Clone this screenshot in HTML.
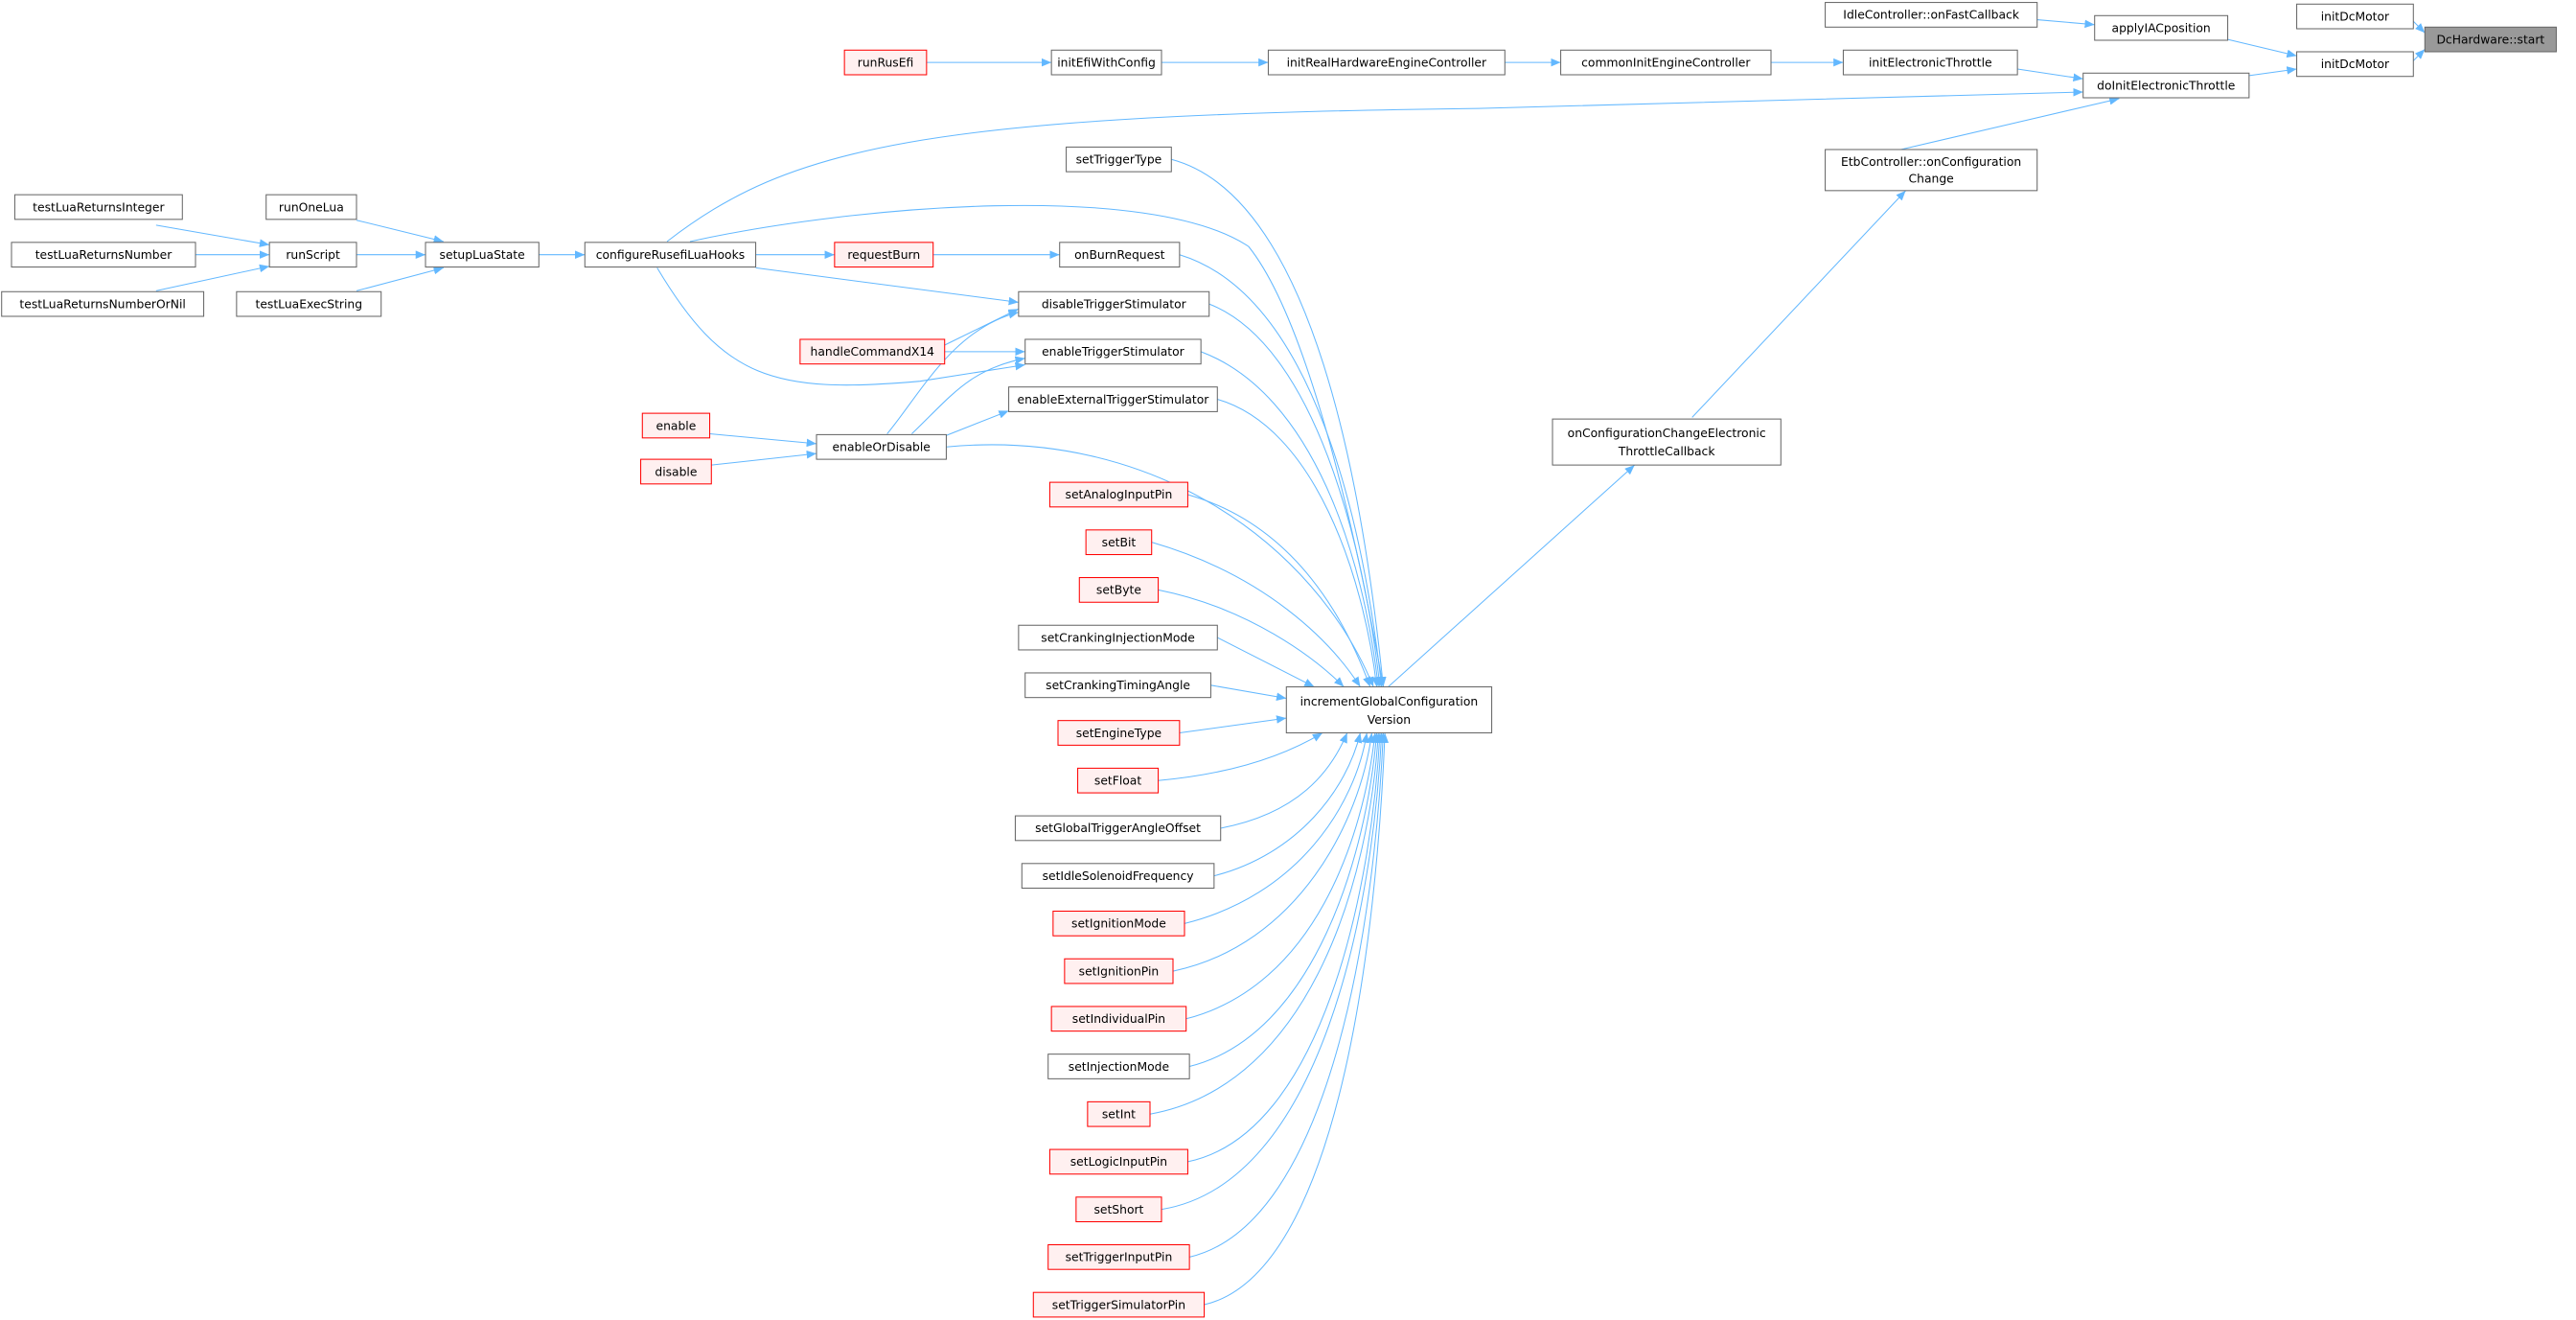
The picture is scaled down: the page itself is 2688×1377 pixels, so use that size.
<!DOCTYPE html>
<html><head><meta charset="utf-8"><style>html,body{margin:0;padding:0;background:#fff}svg{display:block}</style></head><body>
<svg width="2688" height="1377" viewBox="0 0 1568 803.3" preserveAspectRatio="none" xmlns="http://www.w3.org/2000/svg" font-family="'DejaVu Sans','Liberation Sans',sans-serif" font-size="7.2">
<defs><marker id="a" markerWidth="6" markerHeight="5" refX="6" refY="2.5" orient="auto" markerUnits="userSpaceOnUse"><path d="M0,0L6,2.5L0,5z" fill="#63b8ff"/></marker></defs>
<g fill="none" stroke="#63b8ff" stroke-width="0.6" marker-end="url(#a)">
<path d="M1469,13L1476,20"/>
<path d="M1469,37L1476,30"/>
<path d="M1356,24L1398,34"/>
<path d="M1369,46L1398,42"/>
<path d="M1240,12L1275,15"/>
<path d="M1228,42L1268,48"/>
<path d="M1157,91L1290,60"/>
<path d="M1030,254L1160,116"/>
<path d="M845,418L995,283"/>
<path d="M1078,38L1122,38"/>
<path d="M916,38L950,38"/>
<path d="M707,38L772,38"/>
<path d="M564,38L640,38"/>
<path d="M406,147C480,90 560,70 900,66 L1268,56"/>
<path d="M328,155L356,155"/>
<path d="M217,155L259,155"/>
<path d="M217,134L270,147"/>
<path d="M217,177L270,163"/>
<path d="M95,137L164,149"/>
<path d="M119,155L164,155"/>
<path d="M95,177L164,162"/>
<path d="M460,155L508,155"/>
<path d="M568,155L645,155"/>
<path d="M460,163L620,184"/>
<path d="M400,163C440,230 470,240 560,232 L624,222"/>
<path d="M420,147C520,125 700,110 760,150 C800,200 830,350 842,418"/>
<path d="M575,210L620,188"/>
<path d="M575,214L624,214"/>
<path d="M540,264C560,240 580,200 620,190"/>
<path d="M555,264C580,240 590,225 624,218"/>
<path d="M576,265L614,250"/>
<path d="M432,264L497,270"/>
<path d="M433,283L497,276"/>
<path d="M713,97C800,120 830,300 842,418"/>
<path d="M718,155C800,180 830,320 841,418"/>
<path d="M736,185C800,210 830,330 840,418"/>
<path d="M731,214C800,240 830,340 839,418"/>
<path d="M741,243C800,260 830,350 838,418"/>
<path d="M576,272C700,260 800,330 836,418"/>
<path d="M723,301C790,320 820,380 834,418"/>
<path d="M701,330C770,350 810,390 828,418"/>
<path d="M705,359C760,370 800,400 818,418"/>
<path d="M741,388L800,418"/>
<path d="M737,417L783,425"/>
<path d="M718,446L783,437"/>
<path d="M705,475C760,470 790,455 805,446"/>
<path d="M743,504C790,495 810,470 820,446"/>
<path d="M739,533C790,520 820,480 828,446"/>
<path d="M721,562C790,545 825,490 832,446"/>
<path d="M714,591C790,575 828,500 835,446"/>
<path d="M722,620C800,600 830,510 837,446"/>
<path d="M724,649C800,630 832,520 838,446"/>
<path d="M700,678C800,660 834,530 839,446"/>
<path d="M723,707C805,690 835,540 840,446"/>
<path d="M707,736C805,720 836,550 841,446"/>
<path d="M724,765C810,745 837,560 842,446"/>
<path d="M733,794C815,775 838,570 843,446"/>
</g>
<g stroke-width="0.6">
<g fill="#fff" stroke="#666">
<rect x="1398" y="2.5" width="71" height="15"/>
<rect x="1398" y="31.5" width="71" height="15"/>
<rect x="1275" y="9.5" width="81" height="15"/>
<rect x="1111" y="1.5" width="129" height="15"/>
<rect x="1268" y="44.5" width="101" height="15"/>
<rect x="1122" y="30.5" width="106" height="15"/>
<rect x="1111" y="91" width="129" height="25"/>
<rect x="950" y="30.5" width="128" height="15"/>
<rect x="772" y="30.5" width="144" height="15"/>
<rect x="640" y="30.5" width="67" height="15"/>
<rect x="945" y="255" width="139" height="28"/>
<rect x="783" y="418" width="125" height="28"/>
<rect x="649" y="89.5" width="64" height="15"/>
<rect x="356" y="147.5" width="104" height="15"/>
<rect x="259" y="147.5" width="69" height="15"/>
<rect x="164" y="147.5" width="53" height="15"/>
<rect x="162" y="118.5" width="55" height="15"/>
<rect x="144" y="177.5" width="88" height="15"/>
<rect x="9" y="118.5" width="102" height="15"/>
<rect x="7" y="147.5" width="112" height="15"/>
<rect x="1" y="177.5" width="123" height="15"/>
<rect x="645" y="147.5" width="73" height="15"/>
<rect x="620" y="177.5" width="116" height="15"/>
<rect x="624" y="206.5" width="107" height="15"/>
<rect x="614" y="235.5" width="127" height="15"/>
<rect x="497" y="264.5" width="79" height="15"/>
<rect x="620" y="380.5" width="121" height="15"/>
<rect x="624" y="409.5" width="113" height="15"/>
<rect x="618" y="496.5" width="125" height="15"/>
<rect x="622" y="525.5" width="117" height="15"/>
<rect x="638" y="641.5" width="86" height="15"/>
</g>
<rect x="1476" y="16.5" width="80" height="15" fill="#999" stroke="#666"/>
<g fill="#fff0f0" stroke="#f00">
<rect x="514" y="30.5" width="50" height="15"/>
<rect x="508" y="147.5" width="60" height="15"/>
<rect x="487" y="206.5" width="88" height="15"/>
<rect x="391" y="251.5" width="41" height="15"/>
<rect x="390" y="279.5" width="43" height="15"/>
<rect x="639" y="293.5" width="84" height="15"/>
<rect x="661" y="322.5" width="40" height="15"/>
<rect x="657" y="351.5" width="48" height="15"/>
<rect x="644" y="438.5" width="74" height="15"/>
<rect x="656" y="467.5" width="49" height="15"/>
<rect x="641" y="554.5" width="80" height="15"/>
<rect x="648" y="583.5" width="66" height="15"/>
<rect x="640" y="612.5" width="82" height="15"/>
<rect x="662" y="670.5" width="38" height="15"/>
<rect x="639" y="699.5" width="84" height="15"/>
<rect x="655" y="728.5" width="52" height="15"/>
<rect x="638" y="757.5" width="86" height="15"/>
<rect x="629" y="786.5" width="104" height="15"/>
</g>
</g>
<g fill="#000" text-anchor="middle">
<text x="1516" y="26.5">DcHardware::start</text>
<text x="1433.5" y="12.5">initDcMotor</text>
<text x="1433.5" y="41.5">initDcMotor</text>
<text x="1315.5" y="19.5">applyIACposition</text>
<text x="1175.5" y="11.5">IdleController::onFastCallback</text>
<text x="1318.5" y="54.5">doInitElectronicThrottle</text>
<text x="1175" y="40.5">initElectronicThrottle</text>
<text x="1175.5" y="101">EtbController::onConfiguration</text>
<text x="1175.5" y="111">Change</text>
<text x="1014" y="40.5">commonInitEngineController</text>
<text x="844" y="40.5">initRealHardwareEngineController</text>
<text x="673.5" y="40.5">initEfiWithConfig</text>
<text x="539" y="40.5">runRusEfi</text>
<text x="1014.5" y="266">onConfigurationChangeElectronic</text>
<text x="1014.5" y="277">ThrottleCallback</text>
<text x="845.5" y="429.5">incrementGlobalConfiguration</text>
<text x="845.5" y="440.5">Version</text>
<text x="681" y="99.5">setTriggerType</text>
<text x="408" y="157.5">configureRusefiLuaHooks</text>
<text x="293.5" y="157.5">setupLuaState</text>
<text x="190.5" y="157.5">runScript</text>
<text x="189.5" y="128.5">runOneLua</text>
<text x="188" y="187.5">testLuaExecString</text>
<text x="60" y="128.5">testLuaReturnsInteger</text>
<text x="63" y="157.5">testLuaReturnsNumber</text>
<text x="62.5" y="187.5">testLuaReturnsNumberOrNil</text>
<text x="538" y="157.5">requestBurn</text>
<text x="681.5" y="157.5">onBurnRequest</text>
<text x="678" y="187.5">disableTriggerStimulator</text>
<text x="531" y="216.5">handleCommandX14</text>
<text x="677.5" y="216.5">enableTriggerStimulator</text>
<text x="677.5" y="245.5">enableExternalTriggerStimulator</text>
<text x="411.5" y="261.5">enable</text>
<text x="411.5" y="289.5">disable</text>
<text x="536.5" y="274.5">enableOrDisable</text>
<text x="681" y="303.5">setAnalogInputPin</text>
<text x="681" y="332.5">setBit</text>
<text x="681" y="361.5">setByte</text>
<text x="680.5" y="390.5">setCrankingInjectionMode</text>
<text x="680.5" y="419.5">setCrankingTimingAngle</text>
<text x="681" y="448.5">setEngineType</text>
<text x="680.5" y="477.5">setFloat</text>
<text x="680.5" y="506.5">setGlobalTriggerAngleOffset</text>
<text x="680.5" y="535.5">setIdleSolenoidFrequency</text>
<text x="681" y="564.5">setIgnitionMode</text>
<text x="681" y="593.5">setIgnitionPin</text>
<text x="681" y="622.5">setIndividualPin</text>
<text x="681" y="651.5">setInjectionMode</text>
<text x="681" y="680.5">setInt</text>
<text x="681" y="709.5">setLogicInputPin</text>
<text x="681" y="738.5">setShort</text>
<text x="681" y="767.5">setTriggerInputPin</text>
<text x="681" y="796.5">setTriggerSimulatorPin</text>
</g>
</svg>
</body></html>
